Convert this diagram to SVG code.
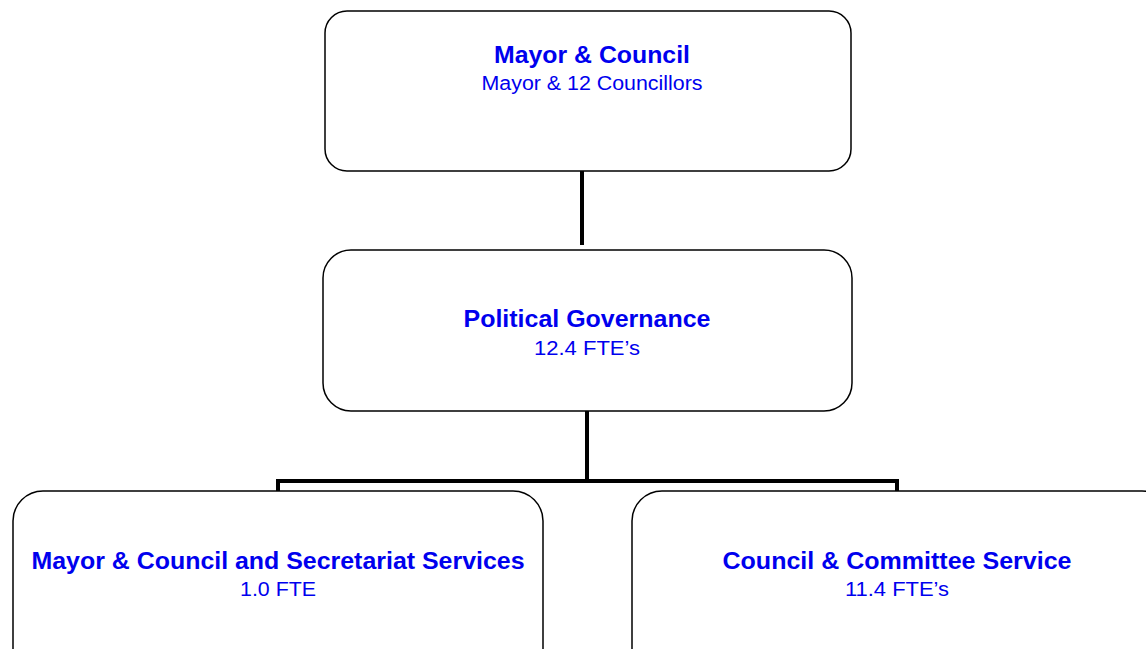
<svg xmlns="http://www.w3.org/2000/svg" width="1146" height="649" viewBox="0 0 1146 649">
  <style>
    .box { fill: #ffffff; stroke: #000000; stroke-width: 1.5; }
    .conn { fill: none; stroke: #000000; stroke-width: 4; stroke-linecap: butt; }
    .title { font-family: "Liberation Sans", Arial, sans-serif; font-weight: bold; font-size: 23.5px; fill: #0000ee; text-anchor: middle; }
    .sub { font-family: "Liberation Sans", Arial, sans-serif; font-size: 20px; fill: #0000ee; text-anchor: middle; }
  </style>
  <rect width="1146" height="649" fill="#ffffff"/>

  <!-- connectors -->
  <g id="connectors">
    <line class="conn" x1="582" y1="171" x2="582" y2="245"/>
    <line class="conn" x1="587" y1="411" x2="587" y2="481"/>
    <polyline class="conn" points="278,492 278,481 897,481 897,492"/>
  </g>

  <g id="mayor-council">
    <rect class="box" x="325" y="11" width="526" height="160" rx="22" ry="22"/>
    <text class="title" x="592" y="63" textLength="196" lengthAdjust="spacingAndGlyphs">Mayor &amp; Council</text>
    <text class="sub" x="592" y="90" textLength="221" lengthAdjust="spacingAndGlyphs">Mayor &amp; 12 Councillors</text>
  </g>

  <g id="political-governance">
    <rect class="box" x="323" y="250" width="529" height="161" rx="28" ry="28"/>
    <text class="title" x="587" y="327" textLength="247" lengthAdjust="spacingAndGlyphs">Political Governance</text>
    <text class="sub" x="587" y="355" textLength="106" lengthAdjust="spacingAndGlyphs">12.4 FTE’s</text>
  </g>

  <g id="secretariat-services">
    <rect class="box" x="13" y="491" width="530" height="200" rx="30" ry="30"/>
    <text class="title" x="278" y="569" textLength="493" lengthAdjust="spacingAndGlyphs">Mayor &amp; Council and Secretariat Services</text>
    <text class="sub" x="278" y="596" textLength="76" lengthAdjust="spacingAndGlyphs">1.0 FTE</text>
  </g>

  <g id="committee-service">
    <rect class="box" x="632" y="491" width="540" height="200" rx="30" ry="30"/>
    <text class="title" x="897" y="569" textLength="349" lengthAdjust="spacingAndGlyphs">Council &amp; Committee Service</text>
    <text class="sub" x="897" y="596" textLength="104" lengthAdjust="spacingAndGlyphs">11.4 FTE’s</text>
  </g>
</svg>
